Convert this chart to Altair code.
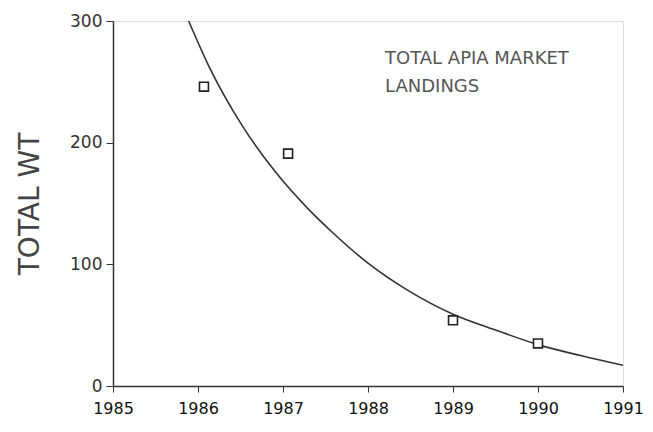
import altair as alt
import pandas as pd

# observed landings
obs_year = [1986.07, 1987.06, 1989.0, 1990.0]
obs_wt = [246, 191, 54, 35]

# fitted curve
fit_year = [1985.89, 1986.12, 1986.52, 1986.91, 1987.29, 1987.57, 1988.0, 1988.46, 1989.0, 1989.5, 1990.0, 1990.5, 1991.0]
fit_wt = [300, 264, 214, 176, 146, 127, 101, 79, 59, 46, 34, 25, 17]

# annotation
note_lines = ["TOTAL APIA MARKET", "LANDINGS"]
note_year = [1988.2, 1988.2]
note_wt = [265, 242]

obs = pd.DataFrame({"year": obs_year, "wt": obs_wt})
fit = pd.DataFrame({"year": fit_year, "wt": fit_wt})
note = pd.DataFrame({"year": note_year, "wt": note_wt, "text": note_lines})

FONT = "DejaVu Sans"

x = alt.X("year:Q", scale=alt.Scale(domain=[1985, 1991], nice=False, zero=False),
          axis=alt.Axis(values=[1985, 1986, 1987, 1988, 1989, 1990, 1991], format="d",
                        title=None, grid=False, labelFontSize=16, labelColor="#111",
                        labelFont=FONT, labelPadding=8, tickSize=6, domainColor="#333",
                        tickColor="#333", domainWidth=1.5, labelFlush=False))
y = alt.Y("wt:Q", scale=alt.Scale(domain=[0, 300], nice=False),
          axis=alt.Axis(values=[0, 100, 200, 300], title="TOTAL WT", grid=False,
                        labelFontSize=17, labelColor="#333", labelFont=FONT,
                        labelPadding=4, tickSize=7, domainColor="#333", tickColor="#333",
                        domainWidth=1.5, titleFontSize=28, titleFont=FONT,
                        titleFontWeight="normal", titleColor="#444", titlePadding=25))

line = alt.Chart(fit).mark_line(interpolate="monotone", color="#333", strokeWidth=1.6).encode(x=x, y=y)
pts = alt.Chart(obs).mark_point(shape="square", size=80, filled=False, color="#222",
                                strokeWidth=1.6, fill="white", fillOpacity=1).encode(x=x, y=y)
txt = alt.Chart(note).mark_text(align="left", baseline="alphabetic", fontSize=18,
                                font=FONT, color="#555").encode(x=x, y=y, text="text:N")

chart = alt.layer(line, pts, txt).properties(
    width=510, height=365,
    autosize=alt.AutoSizeParams(type="none"),
    padding={"left": 105, "top": 13, "right": 22, "bottom": 38},
).configure_view(stroke="#333", strokeWidth=1.5).configure(background="white")

chart.save("out.html", embed_options={"renderer": "svg", "actions": False})
